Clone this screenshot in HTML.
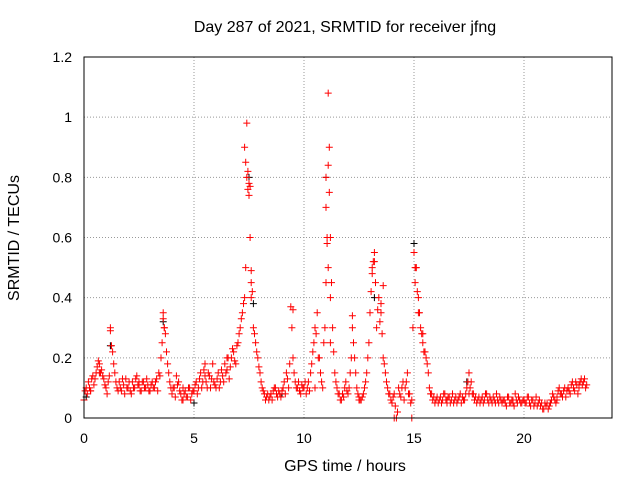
<!DOCTYPE html>
<html><head><meta charset="utf-8"><style>
body{margin:0;background:#fff}
svg{font-family:"Liberation Sans",sans-serif;font-size:14px}
</style></head><body>
<svg id="c" width="640" height="480">
<text x="345" y="32" text-anchor="middle" font-size="16">Day 287 of 2021, SRMTID for receiver jfng</text>
<text x="345" y="471" text-anchor="middle" font-size="16">GPS time / hours</text>
<text transform="translate(19,238) rotate(-90)" text-anchor="middle" font-size="16">SRMTID / TECUs</text>
<g id="grid"></g><g id="marks"></g>
<rect x="84" y="57" width="528" height="361" fill="none" stroke="#000"/>
</svg>
<script>
const xTicks=[0,5,10,15,20];
const yTicks=[0,0.2,0.4,0.6,0.8,1,1.2];
const yTickLabels=["0","0.2","0.4","0.6","0.8","1","1.2"];
const baseStart=0, baseStep=0.1, base2Start=0.05;
const baseValues=[
.06,.1,.12,.09,.14,.13,.17,.18,.16,.13,
.1,.12,.29,.22,.15,.1,.12,.09,.11,.13,
.1,.09,.12,.1,.14,.11,.09,.12,.1,.11,
.09,.12,.1,.13,.15,.2,.33,.28,.18,.12,
.08,.1,.14,.12,.08,.06,.09,.07,.1,.08,
.09,.12,.1,.15,.12,.18,.1,.14,.13,.12,
.1,.15,.12,.14,.18,.16,.13,.2,.22,.18,
.25,.3,.35,.4,.98,.78,.45,.3,.25,.2,
.15,.1,.08,.07,.06,.08,.09,.1,.07,.08,
.09,.12,.15,.1,.37,.2,.12,.1,.09,.11,
.1,.08,.12,.15,.22,.3,.35,.2,.12,.25,
.45,1.08,.6,.3,.15,.1,.08,.06,.07,.12,
.08,.15,.3,.2,.1,.07,.06,.08,.12,.2,
.35,.5,.55,.3,.4,.35,.2,.15,.1,.08,
.05,.08,0,.1,.07,.12,.1,.15,.08,.06,
.55,.5,.4,.3,.25,.22,.18,.1,.08,.07,
.06,.05,.07,.06,.08,.05,.07,.06,.05,.07,
.06,.08,.07,.06,.1,.15,.12,.08,.07,.06,
.05,.07,.06,.08,.05,.06,.07,.05,.06,.07,
.05,.06,.04,.07,.05,.06,.08,.05,.06,.05,
.06,.05,.07,.04,.06,.05,.04,.06,.05,.03,
.04,.03,.05,.08,.06,.07,.1,.08,.09,.07,
.1,.08,.12,.09,.11,.1,.13,.12,.1];
const base2Values=[
.09,.08,.1,.13,.11,.15,.19,.15,.14,.11,
.08,.14,.24,.18,.12,.09,.1,.13,.08,.1,
.12,.08,.1,.13,.11,.09,.12,.1,.13,.09,
.11,.1,.12,.09,.14,.25,.3,.22,.15,.1,
.1,.07,.11,.09,.06,.08,.07,.1,.06,.09,
.11,.08,.13,.1,.16,.12,.15,.1,.18,.11,
.13,.1,.16,.12,.15,.2,.17,.23,.19,.24,
.28,.33,.38,.5,.82,.6,.42,.28,.22,.17,
.12,.09,.06,.08,.07,.06,.1,.08,.09,.07,
.1,.08,.13,.18,.3,.15,.1,.12,.08,.1,
.12,.1,.09,.18,.25,.28,.2,.15,.1,.3,
.6,.9,.45,.22,.12,.08,.06,.08,.1,.09,
.1,.2,.25,.15,.08,.06,.07,.1,.15,.25,
.42,.52,.45,.36,.32,.28,.18,.12,.08,.06,
.07,.04,.02,.08,.1,.06,.12,.08,.05,.3,
.5,.42,.35,.28,.22,.2,.15,.08,.06,.05,
.07,.06,.05,.08,.06,.07,.05,.08,.06,.05,
.07,.05,.06,.08,.12,.1,.08,.06,.05,.07,
.06,.05,.08,.06,.07,.05,.06,.08,.05,.06,
.06,.05,.07,.05,.06,.04,.06,.07,.05,.06,
.05,.07,.05,.06,.04,.07,.05,.04,.03,.05,
.05,.04,.06,.07,.05,.09,.08,.07,.1,.09,
.09,.11,.1,.12,.08,.12,.11,.13,.11];
const extraTimes=[7.3,7.35,7.4,7.45,7.5,7.55,7.6,7.6,11.0,11.0,11.05,11.1,11.15,11.1,11.2,11.2,13.1,13.2,15.0,15.05,15.1,15.2,15.4,3.6,3.65,1.2,9.5,12.2,13.6,13.5,14.1,14.9,0.3,0.7,2.5,4.5,5.5,6.5,8.5,9.8,10.5,12.5,16.5,17.5,18.5,19.5,20.5,21.5,22.5];
const extraValues=[.9,.85,.8,.76,.74,.77,.4,.49,.8,.7,.58,.84,.75,.5,.4,.25,.48,.52,.55,.45,.5,.35,.28,.35,.3,.3,.36,.34,.44,.38,0,0,.09,.15,.12,.1,.14,.2,.08,.09,.1,.06,.06,.08,.06,.05,.05,.06,.11];
const blackTimes=[0.1,1.2,7.5,11.0,15.0,13.2,7.7,5.0,9.0,3.6,17.4,21.2];
const blackValues=[.07,.24,.8,.8,.58,.4,.38,.05,.08,.32,.12,.05];
const X=t=>84+t*22, Y=v=>418-v*(361/1.2);
const NS='http://www.w3.org/2000/svg';
const g=document.getElementById('grid'), m=document.getElementById('marks');
function el(tag,a,p){const e=document.createElementNS(NS,tag);for(const k in a)e.setAttribute(k,a[k]);p.appendChild(e);return e;}
xTicks.forEach(t=>{
 const l=el('line',{x1:X(t),x2:X(t),y1:57,y2:418,stroke:'#999','stroke-dasharray':'1,2'},g);
 
 
 const tx=el('text',{x:X(t),y:443,'text-anchor':'middle'},g);tx.textContent=t;
 
 
});
yTicks.forEach((v,i)=>{
 const l=el('line',{x1:84,x2:612,y1:Y(v),y2:Y(v),stroke:'#999','stroke-dasharray':'1,2'},g);
 
 
 const tx=el('text',{x:72,y:Y(v)+5,'text-anchor':'end'},g);tx.textContent=yTickLabels[i];
 
 
});
function plus(t,v,c){
 const x=X(t),y=Y(v);
 const p=el('path',{d:`M${x-3.5},${y}H${x+3.5}M${x},${y-3.5}V${y+3.5}`,stroke:c,'stroke-width':1},m);
 
 
}
blackTimes.forEach((t,i)=>plus(t,blackValues[i],'#000'));
baseValues.forEach((v,i)=>plus(baseStart+i*baseStep,v,'#f00'));
base2Values.forEach((v,i)=>plus(base2Start+i*baseStep,v,'#f00'));
extraTimes.forEach((t,i)=>plus(t,extraValues[i],'#f00'));
</script>
</body></html>
